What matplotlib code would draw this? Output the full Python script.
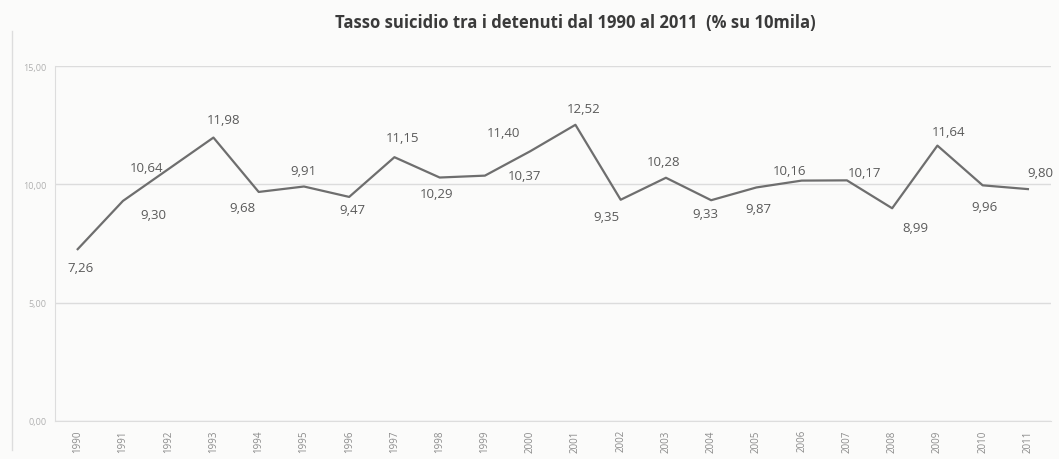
import numpy as np
import matplotlib.pyplot as plt

# dati
anni = [str(a) for a in range(1990, 2012)]
tasso = [7.26, 9.30, 10.64, 11.98, 9.68, 9.91, 9.47, 11.15, 10.29, 10.37, 11.40,
         12.52, 9.35, 10.28, 9.33, 9.87, 10.16, 10.17, 8.99, 11.64, 9.96, 9.80]

# posizione delle etichette (pixel rispetto al punto)
spost = [(3, -18), (30, -14), (-22, 2), (10, 18), (-16, -16), (0, 16), (3, -13),
         (8, 20), (-3, -16), (40, 0), (-27, 19), (8, 16), (-14, -17), (-2, 16),
         (-6, -13), (2, -21), (-12, 10), (18, 8), (23, -19), (11, 14), (2, -21), (12, 17)]

plt.rcParams['font.family'] = ['Open Sans', 'DejaVu Sans']

fig = plt.figure(figsize=(10.59, 4.60), dpi=100, facecolor='#fbfbfa')
ax = fig.add_axes([0.052, 0.083, 0.94, 0.771])
ax.set_facecolor('#fbfbfa')

x = np.arange(len(anni))
ax.plot(x, tasso, color='#6e6e6e', lw=1.6)

for xi, v, (dx, dy) in zip(x, tasso, spost):
    ax.annotate(f'{v:.2f}'.replace('.', ','), (xi, v), xytext=(dx, dy),
                textcoords='offset pixels', ha='center', va='center',
                fontsize=9.5, color='#5a5a5a')

ax.set_xlim(-0.5, len(anni) - 0.5)
ax.set_ylim(0, 15)
ax.set_yticks([0, 5, 10, 15])
ax.set_yticklabels(['0,00', '5,00', '10,00', '15,00'], fontsize=6.5, color='#b0b0b0')
ax.set_xticks(x)
ax.set_xticklabels(anni, rotation=90, fontsize=7, color='#8a8a8a')
ax.tick_params(length=0, pad=6)
ax.grid(axis='y', color='#dcdcdc', lw=1)
ax.set_axisbelow(True)
for s in ['top', 'right']:
    ax.spines[s].set_visible(False)
ax.spines['left'].set_color('#dddddd')
ax.spines['bottom'].set_color('#dddddd')

fig.text(0.543, 0.95, 'Tasso suicidio tra i detenuti dal 1990 al 2011  (% su 10mila)',
         ha='center', va='center', fontsize=12, fontweight='bold', color='#3a3a3a')

# bordo dell'area del grafico
fig.add_artist(plt.Line2D([0.011, 0.011], [0.02, 0.93], color='#dddddd', lw=1))

plt.savefig('out.png', dpi=100, facecolor=fig.get_facecolor())
